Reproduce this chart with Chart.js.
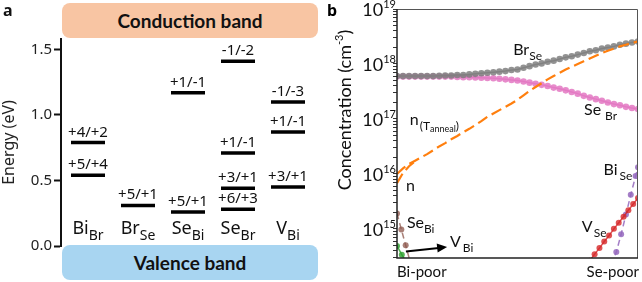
<!DOCTYPE html>
<html>
<head>
<meta charset="utf-8">
<script src="https://cdn.jsdelivr.net/npm/chart.js@4.4.1/dist/chart.umd.min.js"></script>
<style>
  body { margin: 0; background: #fff; }
  #wrap { position: relative; width: 642px; height: 282px; overflow: hidden; }
  .band { position: absolute; left: 62px; width: 256px; height: 35px; border-radius: 8px;
          font: bold 19px Lato, sans-serif; color: #111; display: flex; align-items: center; justify-content: center; }
  canvas { position: absolute; top: 0; }
</style>
</head>
<body>
<div id="wrap">
  <div class="band" style="top:3px;background:#f8c5a3">Conduction band</div>
  <div class="band" style="top:245px;background:#a8d5f1">Valence band</div>
  <canvas id="chartA" width="320" height="282" style="left:0"></canvas>
  <canvas id="chartB" width="322" height="282" style="left:320px"></canvas>
</div>
<script>
// ---- panel a: defect transition levels ----
const defectMain = ['Bi', 'Br', 'Se', 'Se', 'V'];
const defectSub = ['Br', 'Se', 'Bi', 'Br', 'Bi'];
const levelSite = [0, 0, 1, 2, 2, 3, 3, 3, 3, 4, 4, 4];
const levelEnergy = [0.79, 0.54, 0.31, 1.17, 0.26, 1.41, 0.71, 0.44, 0.28, 1.10, 0.87, 0.45];
const levelLabel = ['+4/+2', '+5/+4', '+5/+1', '+1/-1', '+5/+1', '-1/-2', '+1/-1', '+3/+1', '+6/+3', '-1/-3', '+1/-1', '+3/+1'];
const energyTicks = [0, 0.5, 1.0, 1.5];

// ---- panel b: concentrations (log10 cm^-3) from Bi-poor (0) to Se-poor (1) ----
const xGrid = [0, 0.025, 0.05, 0.075, 0.1, 0.125, 0.15, 0.175, 0.2, 0.225, 0.25, 0.275, 0.3, 0.325, 0.35, 0.375, 0.4,
  0.425, 0.45, 0.475, 0.5, 0.525, 0.55, 0.575, 0.6, 0.625, 0.65, 0.675, 0.7, 0.725, 0.75, 0.775, 0.8, 0.825, 0.85,
  0.875, 0.9, 0.925, 0.95, 0.975, 1];
const brSeLog = [17.78, 17.78, 17.78, 17.78, 17.78, 17.78, 17.78, 17.785, 17.79, 17.79, 17.80, 17.80, 17.81, 17.82,
  17.83, 17.84, 17.85, 17.86, 17.87, 17.89, 17.90, 17.93, 17.96, 17.99, 18.01, 18.04, 18.06, 18.09, 18.12, 18.14,
  18.17, 18.20, 18.23, 18.25, 18.28, 18.30, 18.32, 18.35, 18.37, 18.39, 18.41];
const seBrLog = [17.77, 17.77, 17.77, 17.77, 17.77, 17.77, 17.77, 17.77, 17.77, 17.77, 17.765, 17.76, 17.76, 17.755,
  17.75, 17.745, 17.74, 17.73, 17.72, 17.71, 17.70, 17.68, 17.66, 17.64, 17.62, 17.60, 17.57, 17.55, 17.52, 17.49,
  17.46, 17.42, 17.39, 17.36, 17.33, 17.30, 17.27, 17.25, 17.22, 17.20, 17.18];
const nAnnealLog = [16.00, 16.10, 16.18, 16.24, 16.30, 16.36, 16.43, 16.50, 16.56, 16.63, 16.69, 16.76, 16.82, 16.89,
  16.96, 17.04, 17.10, 17.16, 17.22, 17.28, 17.35, 17.43, 17.51, 17.58, 17.65, 17.72, 17.78, 17.84, 17.90, 17.95,
  18.00, 18.05, 18.10, 18.15, 18.20, 18.24, 18.28, 18.32, 18.35, 18.38, 18.41];
// n splits from n(T_anneal) only near the Bi-poor end
const nX = [0, 0.025, 0.05, 0.075];
const nLog = [15.83, 16.02, 16.14, 16.23];
const vSeX = [0.80, 0.82, 0.84, 0.86, 0.88, 0.90, 0.92, 0.94, 0.96, 0.98, 1.00];
const vSeLog = [14.42, 14.54, 14.65, 14.77, 14.88, 15.00, 15.11, 15.22, 15.34, 15.45, 15.56];
const biSeX = [0.89, 0.91, 0.93, 0.95, 0.97, 0.99, 1.00];
const biSeLog = [14.35, 14.58, 14.90, 15.26, 15.62, 15.96, 16.12];
const seBiX = [0, 0.018, 0.036, 0.054];
const seBiLog = [15.28, 14.99, 14.70, 14.41];
const vBiX = [0, 0.02, 0.04];
const vBiLog = [14.69, 14.53, 14.38];
const decadeTicks = [15, 16, 17, 18, 19];

const fontA = 'Noto Sans, sans-serif';
const fontB = 'Lato, sans-serif';

// draw a run of text pieces (for sub/superscripts)
function drawRuns(ctx, x, y, runs, align) {
  let total = 0;
  runs.forEach(r => {
    ctx.font = r.size + 'px ' + r.family;
    r.w = ctx.measureText(r.text).width;
    total += r.w + (r.gap || 0);
  });
  let cx = align === 'center' ? x - total / 2 : align === 'right' ? x - total : x;
  ctx.textAlign = 'left';
  ctx.textBaseline = 'alphabetic';
  runs.forEach(r => {
    cx += r.gap || 0;
    ctx.font = r.size + 'px ' + r.family;
    ctx.fillText(r.text, cx, y + (r.dy || 0));
    cx += r.w;
  });
}

const levelText = {
  id: 'levelText',
  afterDatasetsDraw(chart) {
    const ctx = chart.ctx, xs = chart.scales.x, ys = chart.scales.y;
    ctx.save();
    ctx.fillStyle = '#111';
    levelEnergy.forEach((e, i) => {
      ctx.font = '15px ' + fontA;
      ctx.textAlign = 'center';
      ctx.textBaseline = 'alphabetic';
      ctx.fillText(levelLabel[i], xs.getPixelForValue(levelSite[i]), ys.getPixelForValue(e) - 6);
    });
    defectMain.forEach((m, i) => {
      drawRuns(ctx, xs.getPixelForValue(i), chart.chartArea.bottom - 12, [
        { text: m, size: 18, family: fontA },
        { text: defectSub[i], size: 14, family: fontA, dy: 6 }
      ], 'center');
    });
    ctx.font = 'bold 16px ' + fontA;
    ctx.textAlign = 'left';
    ctx.fillText('a', 3, 16);
    ctx.restore();
  }
};

new Chart(document.getElementById('chartA'), {
  type: 'scatter',
  data: {
    datasets: levelEnergy.map((e, i) => ({
      data: [{ x: levelSite[i] - 0.34, y: e }, { x: levelSite[i] + 0.34, y: e }],
      showLine: true, borderColor: '#000', borderWidth: 3.5, pointRadius: 0
    }))
  },
  options: {
    responsive: false,
    animation: false,
    events: [],
    layout: { padding: { top: 39, bottom: 36, right: 2, left: 0 } },
    plugins: { legend: { display: false }, tooltip: { enabled: false } },
    scales: {
      x: { type: 'linear', min: -0.54, max: 4.6, display: false },
      y: {
        min: 0, max: 1.58,
        afterBuildTicks: s => { s.ticks = energyTicks.map(v => ({ value: v })); },
        ticks: { callback: v => v.toFixed(1), font: { family: fontA, size: 15 }, color: '#222', padding: 2 },
        grid: { drawOnChartArea: false, tickLength: 7, tickWidth: 2, tickColor: '#111' },
        border: { color: '#111', width: 2 },
        title: { display: true, text: 'Energy (eV)', font: { family: fontA, size: 16 }, color: '#222', padding: { top: 0, bottom: 0 } },
        afterFit: s => { s.width = 61; }
      }
    }
  },
  plugins: [levelText]
});

// ---- panel b ----
const pts = (xv, lv) => xv.map((x, i) => ({ x: x, y: Math.pow(10, lv[i]) }));

const curveLabels = [
  { x: 0.482, y: 18.16, runs: [['Br', 16, 0], ['Se', 12, 5]] },
  { x: 0.776, y: 17.07, runs: [['Se', 16, 0], ['Br', 12, 5, 4]] },
  { x: 0.053, y: 16.89, runs: [['n', 16, 0], ['(T', 12, 5, 1], ['anneal', 9, 7], [')', 12, 5]] },
  { x: 0.037, y: 15.69, runs: [['n', 16, 0]] },
  { x: 0.041, y: 15.02, runs: [['Se', 16, 0], ['Bi', 12, 5]] },
  { x: 0.22, y: 14.67, runs: [['V', 16, 0], ['Bi', 12, 5, 2]] },
  { x: 0.767, y: 14.95, runs: [['V', 16, 0], ['Se', 12, 5, 1]] },
  { x: 0.857, y: 15.98, runs: [['Bi', 16, 0], ['Se', 12, 5, 2]] }
];
const arrowFrom = [0.037, 14.59];
const arrowTo = [0.208, 14.67];

const panelB = {
  id: 'panelB',
  afterDatasetsDraw(chart) {
    const ctx = chart.ctx, xs = chart.scales.x, ys = chart.scales.y, a = chart.chartArea;
    ctx.save();
    // frame
    ctx.strokeStyle = '#555';
    ctx.lineWidth = 1;
    ctx.beginPath();
    ctx.moveTo(a.left, a.top + 0.5); ctx.lineTo(a.right - 0.5, a.top + 0.5); ctx.lineTo(a.right - 0.5, a.bottom);
    ctx.stroke();
    ctx.strokeStyle = '#222';
    ctx.lineWidth = 1.5;
    ctx.beginPath();
    ctx.moveTo(a.left, a.top); ctx.lineTo(a.left, a.bottom); ctx.lineTo(a.right, a.bottom);
    ctx.stroke();

    ctx.fillStyle = '#111';
    // decade labels
    decadeTicks.forEach(d => {
      const py = ys.getPixelForValue(Math.pow(10, d));
      drawRuns(ctx, a.left - 1, py + 7, [
        { text: '10', size: 18, family: fontB },
        { text: String(d), size: 11, family: fontB, dy: -8 }
      ], 'right');
    });
    // axis labels
    ctx.font = '15px ' + fontB;
    ctx.textBaseline = 'alphabetic';
    ctx.textAlign = 'left';
    ctx.fillText('Bi-poor', a.left, 277);
    ctx.textAlign = 'right';
    ctx.fillText('Se-poor', a.right + 1, 277);

    ctx.save();
    ctx.translate(31, 110);
    ctx.rotate(-Math.PI / 2);
    drawRuns(ctx, 0, 0, [
      { text: 'Concentration (cm', size: 18, family: fontB },
      { text: '-3', size: 11, family: fontB, dy: -8 },
      { text: ')', size: 18, family: fontB }
    ], 'center');
    ctx.restore();

    // curve labels
    curveLabels.forEach(l => {
      drawRuns(ctx, xs.getPixelForValue(l.x), ys.getPixelForValue(Math.pow(10, l.y)),
        l.runs.map(r => ({ text: r[0], size: r[1], dy: r[2], gap: r[3] || 0, family: fontB })), 'left');
    });

    // arrow
    const x1 = xs.getPixelForValue(arrowFrom[0]), y1 = ys.getPixelForValue(Math.pow(10, arrowFrom[1]));
    const x2 = xs.getPixelForValue(arrowTo[0]), y2 = ys.getPixelForValue(Math.pow(10, arrowTo[1]));
    const ang = Math.atan2(y2 - y1, x2 - x1);
    ctx.strokeStyle = '#000';
    ctx.lineWidth = 2;
    ctx.beginPath();
    ctx.moveTo(x1, y1);
    ctx.lineTo(x2 - 6 * Math.cos(ang), y2 - 6 * Math.sin(ang));
    ctx.stroke();
    ctx.fillStyle = '#000';
    ctx.beginPath();
    ctx.moveTo(x2, y2);
    ctx.lineTo(x2 - 10 * Math.cos(ang) + 4.5 * Math.sin(ang), y2 - 10 * Math.sin(ang) - 4.5 * Math.cos(ang));
    ctx.lineTo(x2 - 10 * Math.cos(ang) - 4.5 * Math.sin(ang), y2 - 10 * Math.sin(ang) + 4.5 * Math.cos(ang));
    ctx.closePath();
    ctx.fill();

    ctx.font = 'bold 16px ' + fontA;
    ctx.textAlign = 'left';
    ctx.fillText('b', 7, 16);
    ctx.restore();
  }
};

function dotted(label, xv, lv, color, dash, r) {
  return {
    label: label, data: pts(xv, lv), showLine: true, borderColor: color, backgroundColor: color,
    pointBackgroundColor: color, pointBorderWidth: 0, pointRadius: r, borderWidth: 1.5, borderDash: dash
  };
}

new Chart(document.getElementById('chartB'), {
  type: 'scatter',
  data: {
    datasets: [
      { label: 'n(Tanneal)', data: pts(xGrid, nAnnealLog), showLine: true, borderColor: '#ff7f0e',
        borderWidth: 2.2, borderDash: [11, 5], pointRadius: 0 },
      { label: 'n', data: pts(nX, nLog), showLine: true, borderColor: '#ff7f0e',
        borderWidth: 2.2, borderDash: [11, 5], pointRadius: 0 },
      dotted('BrSe', xGrid, brSeLog, 'rgba(127,127,127,0.85)', [], 3.3),
      dotted('SeBr', xGrid, seBrLog, 'rgba(227,119,194,0.85)', [], 3.3),
      dotted('VSe', vSeX, vSeLog, 'rgba(214,39,40,0.8)', [], 3),
      dotted('BiSe', biSeX, biSeLog, 'rgba(148,103,189,0.85)', [6, 4], 3),
      dotted('SeBi', seBiX, seBiLog, 'rgba(140,86,75,0.75)', [6, 4], 3),
      dotted('VBi', vBiX, vBiLog, 'rgba(44,160,44,0.8)', [], 3)
    ]
  },
  options: {
    responsive: false,
    animation: false,
    events: [],
    layout: { padding: { top: 9, bottom: 24, right: 1, left: 0 } },
    plugins: { legend: { display: false }, tooltip: { enabled: false } },
    scales: {
      x: { type: 'linear', min: 0, max: 1, display: false },
      y: {
        type: 'logarithmic', min: 2.95e14, max: 1e19,
        afterBuildTicks: s => {
          const t = [];
          decadeTicks.forEach(d => {
            for (let m = 1; m <= 9; m++) {
              const v = m * Math.pow(10, d - 1);
              if (v >= s.min && v <= s.max) t.push({ value: v });
            }
          });
          t.push({ value: 1e19 });
          s.ticks = t;
        },
        ticks: { display: false },
        grid: { drawOnChartArea: false, tickLength: 4, tickColor: '#333', tickWidth: 1 },
        border: { display: false },
        afterFit: s => { s.width = 77; }
      }
    }
  },
  plugins: [panelB]
});
</script>
</body>
</html>
